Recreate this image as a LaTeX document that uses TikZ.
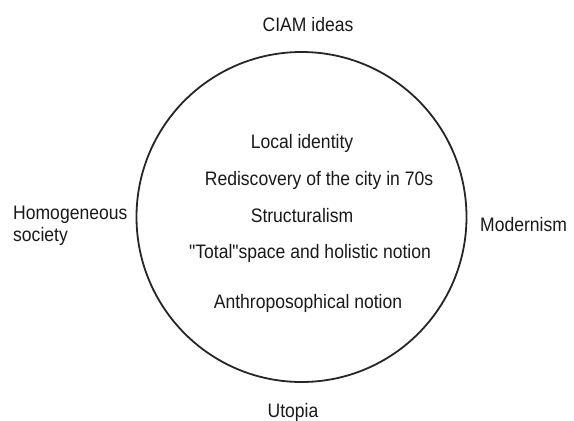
\documentclass[tikz,border=0pt]{standalone}
\usepackage{fontspec}
\setmainfont[FakeStretch=0.9, Ligatures=TeXOff]{Liberation Sans}
\begin{document}
\begin{tikzpicture}[x=1pt,y=-1pt,
  lbl/.style={inner sep=0pt, text=black!90, font=\fontsize{19.5}{22}\selectfont},
  ring/.style={draw=black!85, line width=1.8pt}]
\useasboundingbox (0,0) rectangle (574,421);
\node[ring, circle, minimum size=330pt, inner sep=0pt] (c) at (301.5,217) {};
\node[lbl, anchor=base] (ciam) at (308,31) {CIAM ideas};
\node[lbl, anchor=north west, align=left] (homo) at (13,205.8) {Homogeneous\\ society};
\node[lbl, anchor=base west] (mod) at (480,231) {Modernism};
\node[lbl, anchor=base] (utop) at (293,417) {Utopia};
\node[lbl, anchor=base] (local) at (302,148) {Local identity};
\node[lbl, anchor=base] (redis) at (319,185) {Rediscovery of the city in 70s};
\node[lbl, anchor=base] (struc) at (302,222) {Structuralism};
\node[lbl, anchor=base] (total) at (310,258) {"Total"space and holistic notion};
\node[lbl, anchor=base] (anthro) at (308,308) {Anthroposophical notion};
\end{tikzpicture}
\end{document}
